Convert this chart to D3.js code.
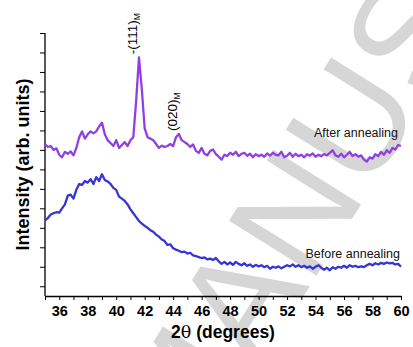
<!DOCTYPE html>
<html>
<head>
<meta charset="utf-8">
<script src="https://cdn.jsdelivr.net/npm/d3@7"></script>
<style>
  body { margin: 0; background: #fff; }
  svg { display: block; font-family: 'Liberation Sans', Arial, sans-serif; }
</style>
</head>
<body>
<div id="chart"></div>
<script>
// 2theta sampling: 35.0 .. 60.0 in 0.2 degree steps
const thetaStart = 35;
const thetaStep = 0.2;

// intensity (arb. units) after annealing
const afterAnnealing = [
  780, 765, 770, 750, 758, 725, 712, 740, 730, 742,
  722, 760, 815, 845, 808, 830, 845, 835, 845, 870,
  890, 830, 800, 785, 770, 800, 760, 775, 790, 770,
  800, 815, 1000, 1225, 1060, 860, 815, 808, 800, 780,
  760, 772, 765, 770, 780, 770, 815, 832, 800, 790,
  780, 765, 778, 745, 735, 760, 730, 722, 745, 752,
  728, 715, 700, 725, 718, 735, 725, 740, 718, 730,
  735, 720, 730, 712, 728, 718, 725, 715, 732, 720,
  735, 725, 722, 740, 712, 720, 735, 715, 730, 718,
  725, 712, 728, 720, 732, 715, 725, 718, 728, 722,
  735, 748, 722, 715, 730, 712, 725, 740, 718, 728,
  715, 722, 700, 690, 712, 705, 728, 718, 740, 725,
  748, 735, 760, 752, 775, 770
];

// intensity (arb. units) before annealing
const beforeAnnealing = [
  388, 400, 418, 425, 430, 428, 450, 470, 515, 520,
  500, 545, 575, 570, 590, 582, 600, 575, 610, 590,
  625, 595, 588, 575, 555, 545, 510, 500, 488, 470,
  445, 425, 405, 385, 372, 360, 350, 338, 330, 315,
  305, 290, 282, 262, 265, 245, 238, 232, 225, 228,
  218, 222, 208, 205, 200, 195, 198, 188, 192, 185,
  195, 178, 165, 175, 162, 172, 160, 175, 165, 158,
  168, 155, 162, 150, 160, 152, 158, 148, 155, 140,
  150, 145, 152, 142, 150, 158, 152, 162, 150, 158,
  148, 155, 145, 152, 140, 150, 158, 145, 135, 145,
  132, 148, 140, 150, 145, 155, 145, 158, 150, 155,
  148, 152, 148, 158, 165, 158, 168, 162, 170, 165,
  172, 168, 170, 162, 165, 150
];

const xTicks = [36, 38, 40, 42, 44, 46, 48, 50, 52, 54, 56, 58, 60];
const yTicks = [50, 150, 250, 350, 450, 550, 650, 750, 850, 950, 1050, 1150, 1250, 1350];

const peakLabels = [
  { text: '-(111)', sub: 'M', theta: 41.6, intensity: 1225 },
  { text: '(020)', sub: 'M', theta: 44.4, intensity: 832 }
];

const width = 413;
const height = 347;
const margin = { top: 33, right: 12, bottom: 51, left: 45 };

const svg = d3.select('#chart')
  .append('svg')
  .attr('width', width)
  .attr('height', height);

// faint diagonal watermark behind the plot
svg.append('text')
  .attr('transform', 'translate(350,120) rotate(-58)')
  .attr('x', -387)
  .attr('y', 54)
  .style('font-size', '150px')
  .style('fill', '#d6d6d6')
  .text('MANUSCRIPT');

const x = d3.scaleLinear()
  .domain([35, 60])
  .range([margin.left, 401]);

const y = d3.scaleLinear()
  .domain([0, 1350])
  .range([height - margin.bottom, margin.top]);

// x axis: minor ticks every degree, labels on even degrees
const xAxis = svg.append('g')
  .attr('transform', `translate(0,${height - margin.bottom})`)
  .call(d3.axisBottom(x)
    .tickValues(d3.range(35, 61, 1))
    .tickSize(4)
    .tickSizeOuter(0)
    .tickFormat(d => xTicks.includes(d) ? d : ''));

xAxis.select('.domain').attr('stroke', '#000').attr('stroke-width', 1.3);
xAxis.selectAll('.tick line').attr('stroke', '#000').attr('stroke-width', 1);
xAxis.selectAll('.tick text')
  .attr('y', 20)
  .attr('dy', 0)
  .style('font-size', '14.5px')
  .style('font-weight', 'bold')
  .style('font-family', "'Liberation Sans', Arial, sans-serif")
  .attr('fill', '#000');

// y axis: ticks only
const yAxis = svg.append('g')
  .attr('transform', `translate(${margin.left},0)`)
  .call(d3.axisLeft(y)
    .tickValues(yTicks)
    .tickSize(5)
    .tickSizeOuter(0)
    .tickFormat(''));

yAxis.select('.domain')
  .attr('d', `M0,${y(0)}V${y(1350)}`)
  .attr('stroke', '#000')
  .attr('stroke-width', 1.3);
yAxis.selectAll('.tick line').attr('stroke', '#000').attr('stroke-width', 1);

// curves
const line = d3.line()
  .x((d, i) => x(thetaStart + i * thetaStep))
  .y(d => y(d));

svg.append('path')
  .datum(beforeAnnealing)
  .attr('fill', 'none')
  .attr('stroke', '#3535d6')
  .attr('stroke-width', 2.3)
  .attr('stroke-linejoin', 'round')
  .attr('d', line);

svg.append('path')
  .datum(afterAnnealing)
  .attr('fill', 'none')
  .attr('stroke', '#9040e2')
  .attr('stroke-width', 2.3)
  .attr('stroke-linejoin', 'round')
  .attr('d', line);

// peak labels, rotated
peakLabels.forEach(p => {
  const t = svg.append('text')
    .attr('transform', `translate(${x(p.theta) - 1.5},${y(p.intensity) - 3}) rotate(-90)`)
    .style('font-size', '13.5px')
    .style('fill', '#000');
  t.append('tspan').text(p.text);
  t.append('tspan')
    .attr('dy', 3)
    .style('font-size', '8.5px')
    .text(p.sub);
});

// series labels
svg.append('text')
  .attr('x', 398)
  .attr('y', 137)
  .attr('text-anchor', 'end')
  .style('font-size', '12.5px')
  .style('fill', '#111')
  .text('After annealing');

svg.append('text')
  .attr('x', 400)
  .attr('y', 258)
  .attr('text-anchor', 'end')
  .style('font-size', '12.5px')
  .style('fill', '#111')
  .text('Before annealing');

// axis titles
const xTitle = svg.append('text')
  .attr('x', (x(35) + x(60)) / 2)
  .attr('y', 338)
  .attr('text-anchor', 'middle')
  .style('font-size', '17.5px')
  .style('font-weight', 'bold');
xTitle.append('tspan').text('2');
xTitle.append('tspan')
  .style('font-family', "'DejaVu Serif', serif")
  .style('font-weight', 'normal')
  .text('θ');
xTitle.append('tspan').text(' (degrees)');

svg.append('text')
  .attr('transform', `translate(29,${(y(0) + y(1350)) / 2}) rotate(-90)`)
  .attr('text-anchor', 'middle')
  .style('font-size', '18px')
  .style('font-weight', 'bold')
  .text('Intensity (arb. units)');
</script>
</body>
</html>
